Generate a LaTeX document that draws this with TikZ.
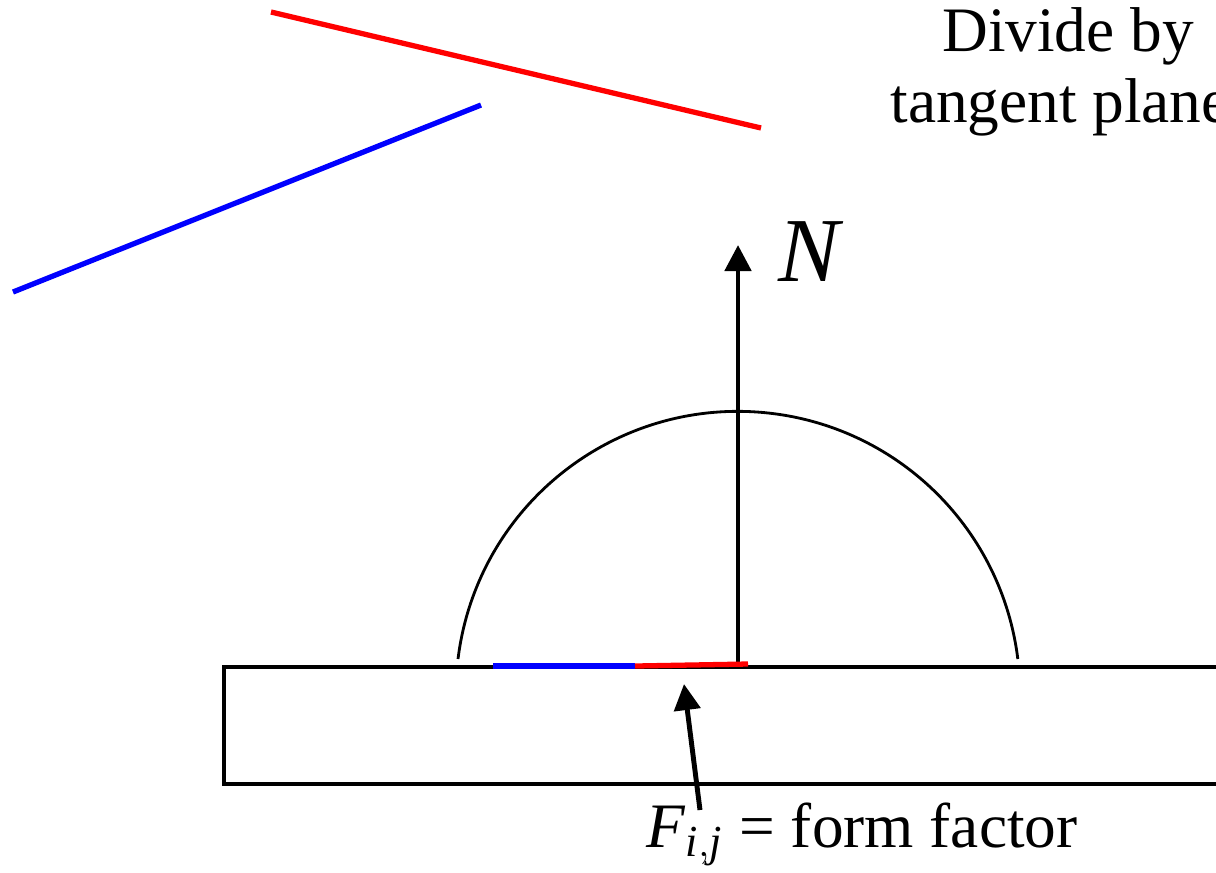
\documentclass[tikz,border=0pt]{standalone}
\usepackage{fontspec}
\setmainfont{Liberation Serif}
\usetikzlibrary{arrows.meta}

\begin{document}
\begin{tikzpicture}[x=0.01cm, y=-0.01cm,
  ray/.style={line width=1.5pt},
  pointer/.style={line width=1.4pt, -{Triangle[length=0.26cm, width=0.26cm]}}]
  \useasboundingbox (0,0) rectangle (1216,872);
  \clip (0,0) rectangle (1216,872);

  % incoming rays
  \draw[ray, red] (271,12) -- (761,128);
  \draw[ray, blue] (13,292) -- (481,105);
  \node[align=center, font=\fontsize{18}{20}\selectfont] (divide) at (1060,72) {\hspace{0.16cm}Divide by\\tangent plane};

  % surface and hemisphere
  \draw[line width=1.15pt] (224,667) rectangle (1240,784);
  \draw[line width=0.8pt] (458,659) arc[start angle=187, end angle=353, radius=282];

  \coordinate (base) at (738,664);
  \coordinate (normal) at (738,245);
  \draw[pointer] (base) -- (normal);
  \node[font=\fontsize{26}{26}\selectfont\itshape] (N) at (809,252) {N};

  % projections
  \draw[ray, blue] (493,666) -- (635,666);
  \draw[ray, red] (635,666) -- (748,664);

  \node[font=\fontsize{18}{18}\selectfont] (ff) at (862,834) {\textit{F}$_{\mathit{i,j}}$ = form factor};
  \coordinate (tail) at (700,810);
  \coordinate (hit) at (684,684);
  \draw[pointer] (tail) -- (hit);
\end{tikzpicture}
\end{document}
